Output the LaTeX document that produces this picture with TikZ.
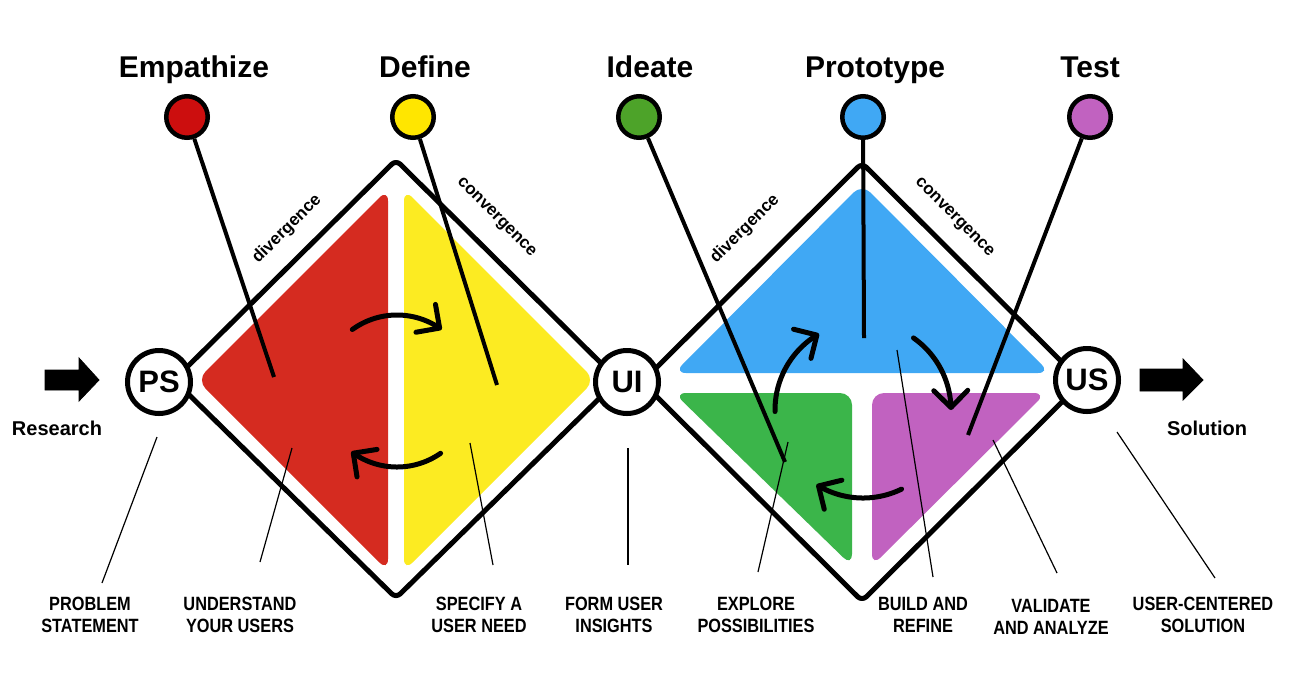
\documentclass[tikz,border=0pt]{standalone}
\usepackage{fontspec}
\setmainfont{Liberation Sans}
\newfontfamily\condfont{Liberation Sans}[FakeStretch=0.85]
\usetikzlibrary{arrows.meta}

\definecolor{redfill}{HTML}{D52B20}
\definecolor{yellowfill}{HTML}{FCEB22}
\definecolor{bluefill}{HTML}{40A8F4}
\definecolor{greenfill}{HTML}{3BB54A}
\definecolor{purplefill}{HTML}{C162C0}
\definecolor{reddot}{HTML}{CC0E0E}
\definecolor{yellowdot}{HTML}{FFE600}
\definecolor{greendot}{HTML}{4DA329}

\begin{document}
\begin{tikzpicture}[x=0.5pt,y=-0.5pt,
  phase/.style={anchor=base,font=\bfseries\fontsize{15}{18}\selectfont},
  dot/.style={circle,draw,line width=2.25pt,minimum size=20.75pt,inner sep=0pt},
  stage/.style={circle,draw,fill=white,line width=2.5pt,minimum size=31.5pt,inner sep=0pt,
    font=\bfseries\fontsize{15.5}{18}\selectfont},
  pointer/.style={line width=2pt},
  leader/.style={line width=0.6pt},
  caption/.style={align=center,inner sep=0pt,font=\condfont\bfseries\fontsize{9.6}{11}\selectfont},
  flow/.style={line width=2.5pt,line cap=round,-{Straight Barb[round,length=8.5pt,width=17pt]}},
  frame/.style={line width=2.5pt,rounded corners=3pt,line join=round},
  region/.style={rounded corners=6pt},
  side/.style={font=\bfseries\fontsize{8.5}{10}\selectfont},
  endword/.style={anchor=base,font=\bfseries\fontsize{10}{12}\selectfont},
  blockarrow/.style={fill=black}
]
\fill[white] (0,0) rectangle (1300,676);
\useasboundingbox (0,0) rectangle (1300,676);

% coloured regions of the first diamond
\fill[redfill,region] (197,380) -- (388,189) -- (388,571) -- cycle;
\fill[yellowfill,region] (404,189) -- (595,380) -- (404,571) -- cycle;

% coloured regions of the second diamond
\fill[bluefill,region] (674,373) -- (862,184) -- (1050,373) -- cycle;
\fill[greenfill,region] (674,393) -- (852,393) -- (852,566) -- cycle;
\fill[purplefill,region] (872,393) -- (1046,393) -- (872,566) -- cycle;

% diamond outlines
\draw[frame] (174,380) -- (396,160) -- (618,380) -- (396,598) -- cycle;
\draw[frame] (642,382) -- (862,163) -- (1082,382) -- (862,601) -- cycle;

% side labels
\node[side,rotate=45] (div1) at (287,229) {divergence};
\node[side,rotate=-45] (conv1) at (496,218) {convergence};
\node[side,rotate=45] (div2) at (745,229) {divergence};
\node[side,rotate=-45] (conv2) at (954,218) {convergence};

% iteration arrows
\draw[flow] plot[domain=234:306,samples=40] ({397+76*cos(\x)},{391+76*sin(\x)});
\draw[flow] plot[domain=55:127,samples=40] ({397+76*cos(\x)},{391+76*sin(\x)});
\draw[flow] plot[domain=179:240,samples=40] ({863+88*cos(\x)},{410+88*sin(\x)});
\draw[flow] plot[domain=305:360,samples=40] ({863+88*cos(\x)},{410+88*sin(\x)});
\draw[flow] plot[domain=64:122,samples=40] ({863+88*cos(\x)},{410+88*sin(\x)});

% stage circles
\node[stage] (PS) at (159,382) {PS};
\node[stage] (UI) at (627,382) {UI};
\node[stage] (US) at (1087,380) {US};

% phase titles and markers
\node[phase] (tEmp) at (194,77) {Empathize};
\node[phase] (tDef) at (425,77) {Define};
\node[phase] (tIde) at (650,77) {Ideate};
\node[phase] (tPro) at (875,77) {Prototype};
\node[phase] (tTes) at (1090,77) {Test};

\node[dot,fill=reddot] (mEmp) at (187,117) {};
\node[dot,fill=yellowdot] (mDef) at (413,117) {};
\node[dot,fill=greendot] (mIde) at (639,117) {};
\node[dot,fill=bluefill] (mPro) at (863,117) {};
\node[dot,fill=purplefill] (mTes) at (1090,117) {};

\coordinate (eEmp) at (274,377);
\coordinate (eDef) at (497,385);
\coordinate (eIde) at (785,462);
\coordinate (ePro) at (864,338);
\coordinate (eTes) at (968,435);

\draw[pointer] (mEmp) -- (eEmp);
\draw[pointer] (mDef) -- (eDef);
\draw[pointer] (mIde) -- (eIde);
\draw[pointer] (mPro) -- (ePro);
\draw[pointer] (mTes) -- (eTes);

% start and end arrows
\draw[blockarrow] (45,370) -- (79,370) -- (79,358) -- (99,380) -- (79,401) -- (79,390) -- (45,390) -- cycle;
\draw[blockarrow] (1140,369) -- (1183,369) -- (1183,359) -- (1203,380) -- (1183,400) -- (1183,391) -- (1140,391) -- cycle;
\node[endword] (research) at (57,435) {Research};
\node[endword] (solution) at (1207,435) {Solution};

% captions
\node[caption] (cPS) at (90,615) {PROBLEM\\STATEMENT};
\node[caption] (cEmp) at (240,615) {UNDERSTAND\\YOUR USERS};
\node[caption] (cDef) at (479,615) {SPECIFY A\\USER NEED};
\node[caption] (cUI) at (614,615) {FORM USER\\INSIGHTS};
\node[caption] (cIde) at (756,615) {EXPLORE\\POSSIBILITIES};
\node[caption] (cPro) at (923,615) {BUILD AND\\REFINE};
\node[caption] (cTes) at (1051,617) {VALIDATE\\AND ANALYZE};
\node[caption] (cUS) at (1203,615) {USER-CENTERED\\SOLUTION};

% leader lines
\coordinate (a1) at (157,437);  \coordinate (b1) at (102,583);
\coordinate (a2) at (292,448);  \coordinate (b2) at (260,562);
\coordinate (a3) at (470,443);  \coordinate (b3) at (493,565);
\coordinate (a4) at (628,448);  \coordinate (b4) at (628,565);
\coordinate (a5) at (788,442);  \coordinate (b5) at (758,572);
\coordinate (a6) at (897,350);  \coordinate (b6) at (933,577);
\coordinate (a7) at (993,440);  \coordinate (b7) at (1057,573);
\coordinate (a8) at (1117,432); \coordinate (b8) at (1215,578);
\foreach \i in {1,...,8} { \draw[leader] (a\i) -- (b\i); }
\end{tikzpicture}
\end{document}
